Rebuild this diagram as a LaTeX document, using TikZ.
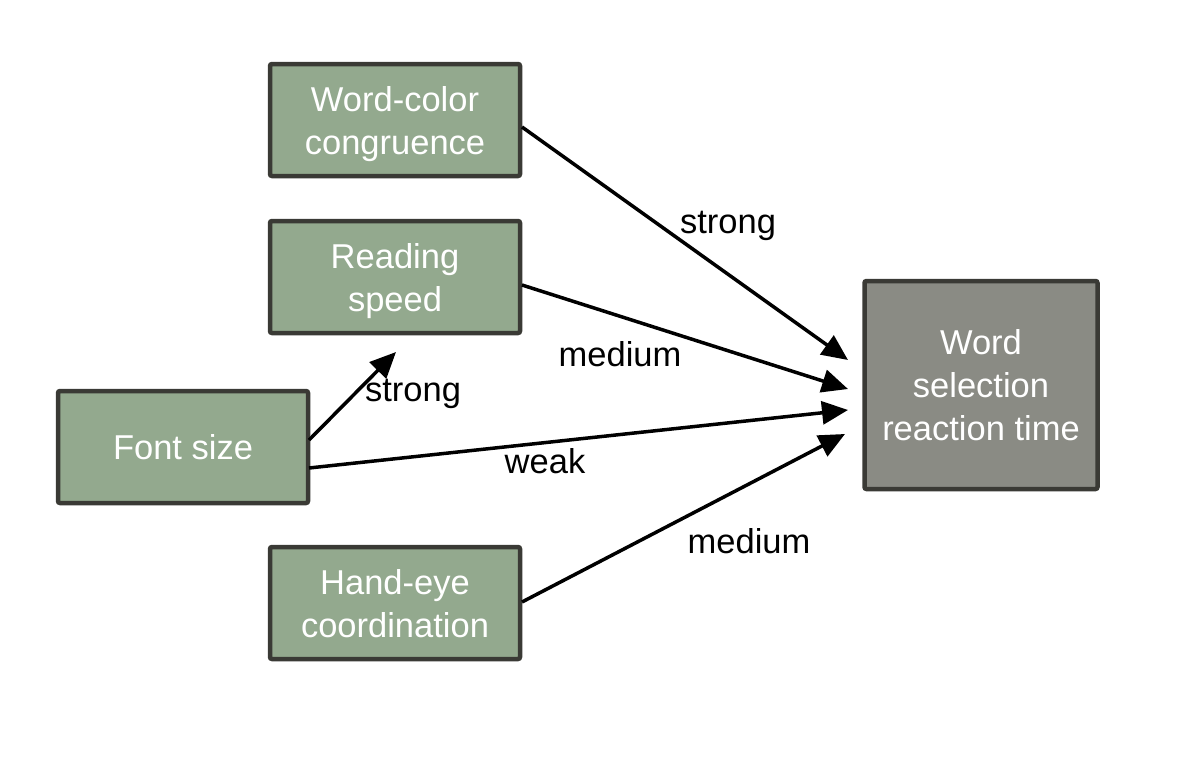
\documentclass[tikz,border=0pt]{standalone}
\usepackage{fontspec}
\setmainfont{Liberation Sans}
\usetikzlibrary{arrows.meta}
\definecolor{boxgreen}{HTML}{93A98E}
\definecolor{boxgrey}{HTML}{8A8B84}
\definecolor{boxline}{HTML}{3A3A35}
\tikzset{
  x=1pt, y=-1pt,
  factor/.style={draw=boxline, line width=4.5pt, fill=boxgreen, text=white, align=center,
    rounded corners=2pt, text depth=0pt,
    minimum width=250pt, minimum height=112pt, inner sep=0pt,
    font=\fontsize{34.5}{43}\selectfont},
  outcome/.style={factor, fill=boxgrey, minimum width=233pt, minimum height=208pt},
  link/.style={line width=3.5pt, -{Triangle[length=26pt,width=23pt]}},
  lbl/.style={text=black, font=\fontsize{34.5}{40}\selectfont, inner sep=0pt},
}
\begin{document}
\begin{tikzpicture}
\useasboundingbox (0,0) rectangle (1200,756);
\node[factor] (wcc) at (395,120) {Word-color\\congruence};
\node[factor] (rs) at (395,277) {Reading\\speed};
\node[factor] (fs) at (183,447) {Font size};
\node[factor] (he) at (395,603) {Hand-eye\\coordination};
\node[outcome] (wsrt) at (981,385) {Word\\selection\\reaction time};
\coordinate (t1) at (848,360);
\coordinate (t2) at (848,389);
\coordinate (t3) at (848,410);
\coordinate (t4) at (845,434);
\coordinate (t5) at (396,352);
\coordinate (s1) at (522,127);
\coordinate (s2) at (522,285);
\coordinate (s3) at (309,468);
\coordinate (s4) at (522,602);
\coordinate (s5) at (309,440);
\draw[link] (s1) -- (t1);
\draw[link] (s2) -- (t2);
\draw[link] (s3) -- (t3);
\draw[link] (s4) -- (t4);
\draw[link] (s5) -- (t5);
\node[lbl] (l1) at (728,226) {strong};
\node[lbl] (l2) at (620,354) {medium};
\node[lbl] (l3) at (545,461) {weak};
\node[lbl] (l4) at (413,394) {strong};
\node[lbl] (l5) at (749,541) {medium};
\end{tikzpicture}
\end{document}
